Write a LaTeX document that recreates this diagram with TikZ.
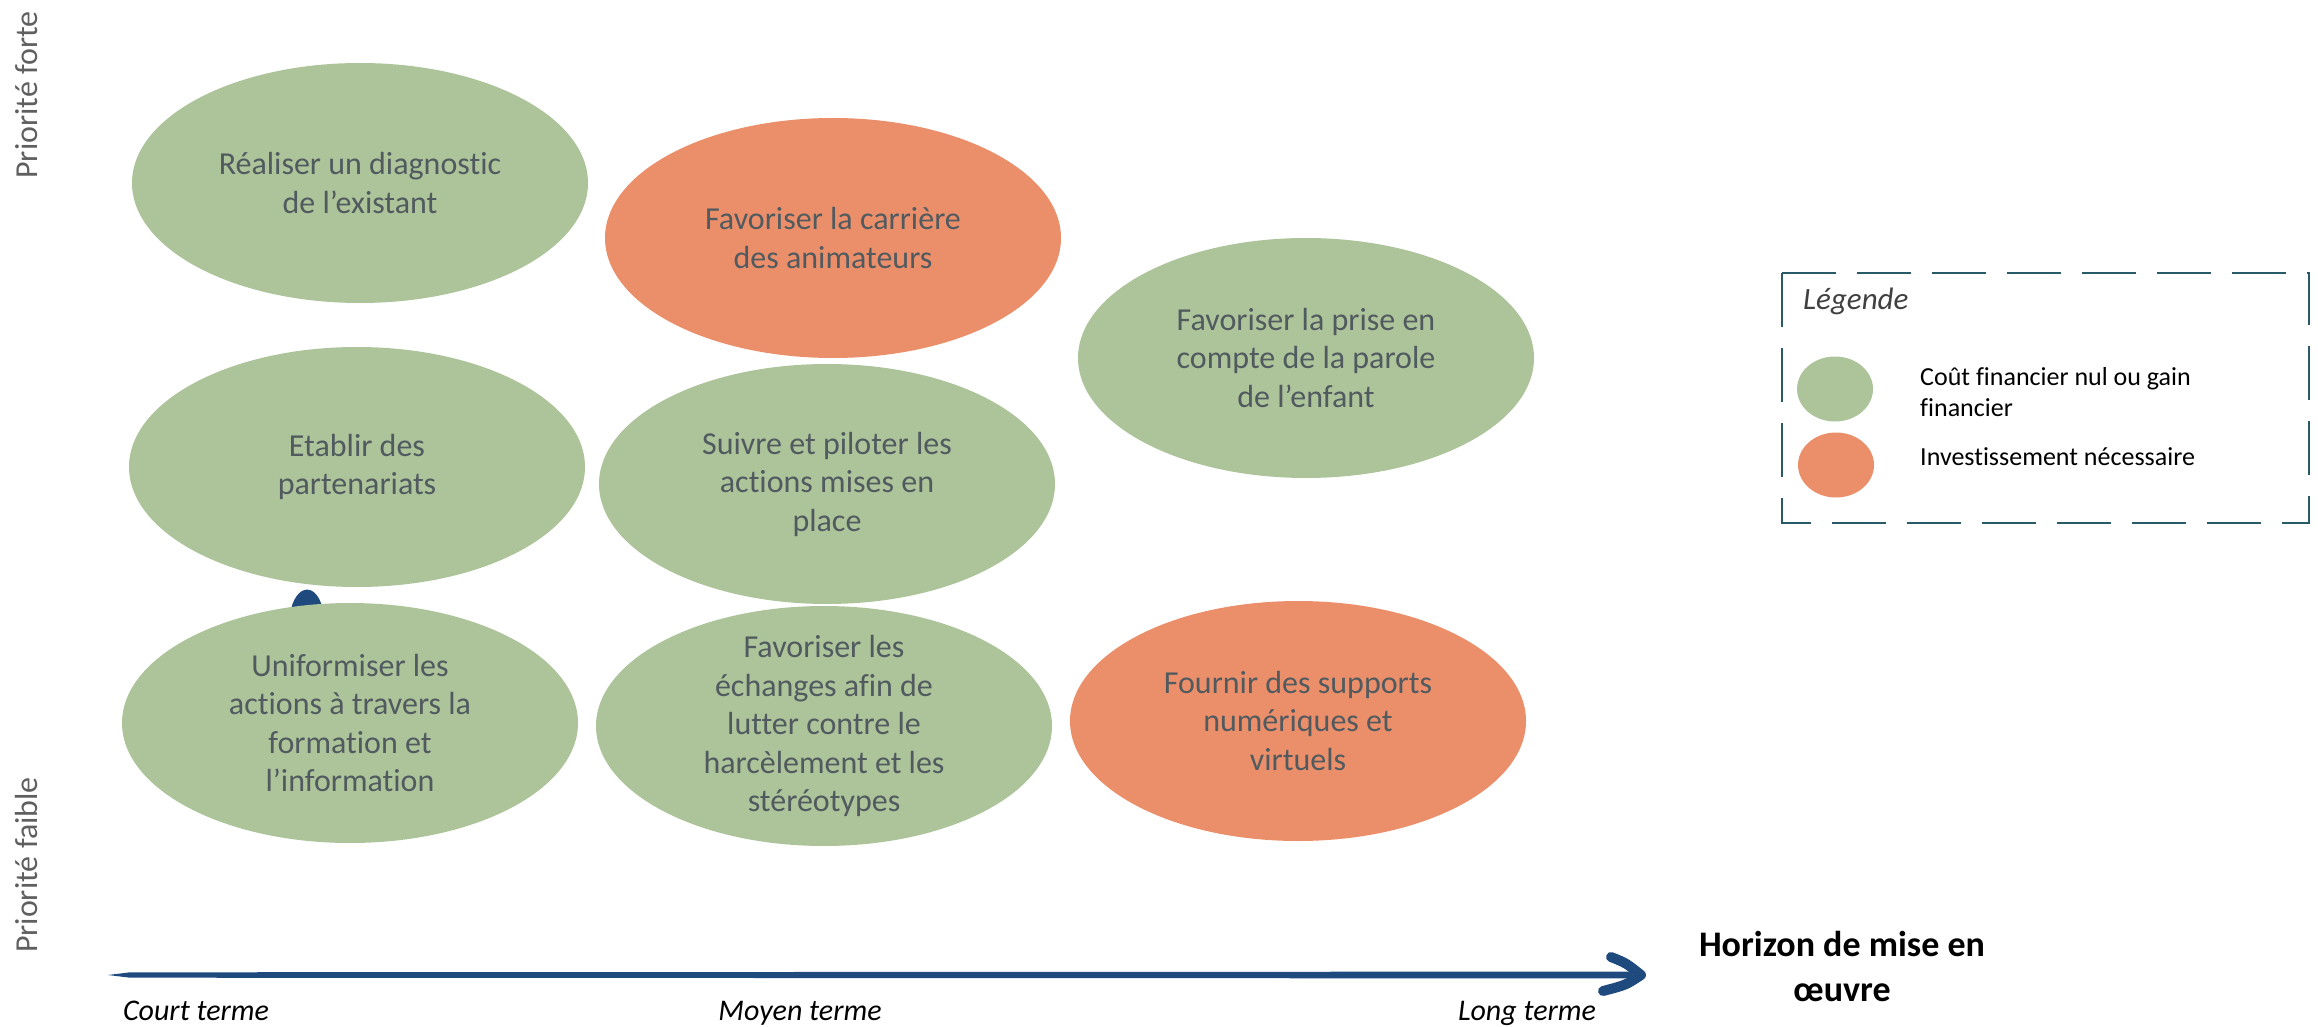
\documentclass[tikz,border=0pt]{standalone}
\usepackage{fontspec}
\setmainfont{Carlito}[Ligatures=NoCommon]
\usetikzlibrary{shapes.geometric}
\definecolor{ellgreen}{RGB}{173,195,154}
\definecolor{ellorange}{RGB}{235,143,107}
\definecolor{elltext}{RGB}{80,90,95}
\definecolor{axisblue}{RGB}{31,74,126}
\definecolor{legendline}{RGB}{40,90,104}
\definecolor{sidegray}{RGB}{95,95,95}
\begin{document}
\begin{tikzpicture}[x=1pt,y=-1pt,
  bubble/.style={ellipse, minimum width=456pt, minimum height=240pt, inner sep=0pt},
  gbubble/.style={bubble, fill=ellgreen},
  obubble/.style={bubble, fill=ellorange},
  btext/.style={align=center, text=elltext, inner sep=0pt, font=\fontsize{32}{38.5}\selectfont},
  sidelabel/.style={rotate=90, anchor=base, inner sep=0pt, text=sidegray, font=\fontsize{32}{38}\selectfont},
  axlabel/.style={anchor=base, inner sep=0pt, font=\fontsize{30}{36}\selectfont\itshape},
  legtext/.style={inner sep=0pt, align=left, font=\fontsize{26}{31}\selectfont},
  legdot/.style={ellipse, minimum width=76pt, minimum height=65pt, inner sep=0pt},
]
\useasboundingbox (0,0) rectangle (2318,1027);

% top row
\node[gbubble] (e1) at (360,183) {};
\node[btext] (t1) at (e1) {Réaliser un diagnostic\\de l’existant};
\node[obubble] (e2) at (833,238) {};
\node[btext] (t2) at (e2) {Favoriser la carrière\\des animateurs};
\node[gbubble] (e3) at (1306,358) {};
\node[btext] (t3) at (e3) {Favoriser la prise en\\compte de la parole\\de l’enfant};

% middle row
\node[gbubble] (e4) at (357,467) {};
\node[btext] (t4) at (e4) {Etablir des\\partenariats};
\node[gbubble] (e5) at (827,484) {};
\node[btext] (t5) at (e5) {Suivre et piloter les\\actions mises en\\place};

% hidden arrow fragment between e4 and e6
\coordinate (h1) at (290,614);
\coordinate (h2) at (324,614);
\fill[axisblue] (h1) .. controls (295,583) and (318,580) .. (h2) -- cycle;

% bottom row
\node[gbubble] (e6) at (350,723) {};
\node[btext] (t6) at (e6) {Uniformiser les\\actions à travers la\\formation et\\l’information};
\node[gbubble] (e7) at (824,726) {};
\node[btext] (t7) at (e7) {Favoriser les\\échanges afin de\\lutter contre le\\harcèlement et les\\stéréotypes};
\node[obubble] (e8) at (1298,721) {};
\node[btext] (t8) at (e8) {Fournir des supports\\numériques et\\virtuels};

% side labels
\node[sidelabel] (pf) at (37,95) {Priorité forte};
\node[sidelabel] (pl) at (37,865) {Priorité faible};

% axis
\coordinate (axS) at (108,975);
\coordinate (axE) at (1641,975);
\fill[axisblue] (axS) -- (130,972.3) -- (1632,971.6) -- (1632,978.4) -- (130,977.7) -- cycle;
\draw[axisblue, line width=10pt, line cap=round, line join=round]
  (1611,957) .. controls (1626,963) .. (axE) .. controls (1626,985) .. (1603,991);

\node[axlabel] (ct) at (196,1020) {Court terme};
\node[axlabel] (mt) at (800,1020) {Moyen terme};
\node[axlabel] (lt) at (1527,1020) {Long terme};
\node[align=center, inner sep=0pt, font=\fontsize{36}{45}\selectfont\bfseries] (hz) at (1842,966) {Horizon de mise en\\œuvre};

% legend
\draw[legendline, line width=2.5pt, dash pattern=on 54pt off 21pt] (1782,273) rectangle (2309,523);
\node[anchor=base west, inner sep=0pt, text=black!75, font=\fontsize{31}{36}\selectfont\itshape] (lg) at (1803,309) {Légende};
\node[legdot, fill=ellgreen] (lgg) at (1835,389) {};
\node[legdot, fill=ellorange] (lgo) at (1836,465) {};
\node[legtext, anchor=west] (lgt1) at (1920,392) {Coût financier nul ou gain\\financier};
\node[legtext, anchor=base west] (lgt2) at (1920,465) {Investissement nécessaire};
\end{tikzpicture}
\end{document}
